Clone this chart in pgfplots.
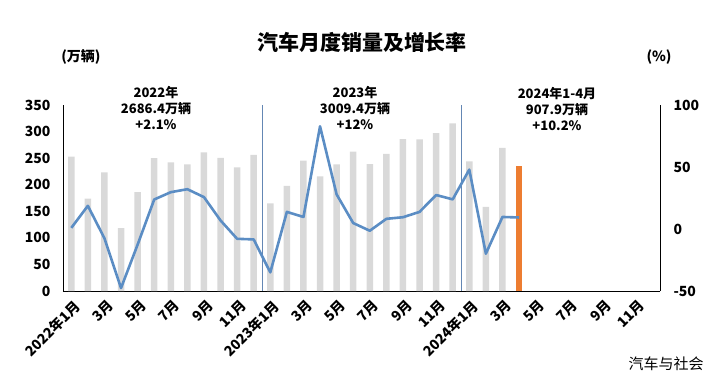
\documentclass[border=0pt]{standalone}
\usepackage{pgfplots}
\pgfplotsset{compat=1.18}
\usepackage{fontspec}
\setmainfont{Noto Sans CJK SC}
\definecolor{barg}{RGB}{217,217,217}
\definecolor{lineb}{RGB}{91,141,196}
\definecolor{orng}{RGB}{237,125,49}
\definecolor{divl}{RGB}{100,135,180}
\begin{document}
\begin{tikzpicture}[x=1pt,y=1pt]
\path[use as bounding box] (-63,-90) rectangle (661,291);
\begin{axis}[
  scale only axis, width=597pt, height=186pt,
  xmin=-0.5, xmax=35.5, ymin=0, ymax=350,
  axis x line*=bottom, axis y line*=left,
  axis line style={black, line width=0.8pt, -},
  major tick length=0pt,
  xtick={0,2,...,34},
  xticklabels={2022年1月,3月,5月,7月,9月,11月,2023年1月,3月,5月,7月,9月,11月,2024年1月,3月,5月,7月,9月,11月},
  x tick label style={yshift=-6pt, xshift=2pt, rotate=45, anchor=north east, inner sep=1pt, font=\fontsize{14}{14}\selectfont\bfseries},
  ytick={0,50,...,350},
  yticklabels={0,50,100,150,200,250,300,350},
  y tick label style={font=\fontsize{14}{14}\selectfont\bfseries, xshift=-9pt},
  extra x ticks={11.5,23.5}, extra x tick labels={,},
  extra x tick style={grid=major, major grid style={divl, line width=0.6pt}},
  ybar, bar width=6.5pt,
]
\addplot[fill=barg, draw=none, bar shift=0pt] coordinates {
(0,253.0) (1,173.7) (2,223.4) (3,118.1) (4,186.2) (5,250.2) (6,242.0) (7,238.3) (8,261.0) (9,250.3) (10,232.6) (11,256.0)
(12,164.9) (13,197.6) (14,245.1) (15,215.9) (16,238.2) (17,262.2) (18,238.7) (19,258.2) (20,285.8) (21,285.3) (22,297.0) (23,315.6)
(24,243.9) (25,158.4) (26,269.4)};
\addplot[fill=orng, draw=none, bar shift=0pt] coordinates {(27,235.9)};
\end{axis}
\begin{axis}[
  scale only axis, width=597pt, height=186pt,
  xmin=-0.5, xmax=35.5, ymin=-50, ymax=100,
  axis x line=none, axis y line*=right,
  axis line style={black, line width=0.8pt, -},
  major tick length=0pt,
  ytick={-50,0,50,100},
  yticklabels={-50,0,50,100},
  y tick label style={font=\fontsize{14}{14}\selectfont\bfseries, xshift=10pt},
]
\addplot[lineb, line width=2.6pt, line join=round] coordinates {
(0,0.9) (1,18.7) (2,-7.5) (3,-47.6) (4,-12.6) (5,23.8) (6,29.7) (7,32.1) (8,25.7) (9,6.9) (10,-7.9) (11,-8.4)
(12,-35.0) (13,13.8) (14,9.7) (15,82.8) (16,27.9) (17,4.8) (18,-1.4) (19,8.2) (20,9.5) (21,13.8) (22,27.4) (23,23.9)
(24,47.9) (25,-19.9) (26,9.7) (27,9.3)};
\end{axis}
\node[font=\fontsize{21}{21}\selectfont\bfseries] at (299,249) {汽车月度销量及增长率};
\node[font=\fontsize{14}{14}\selectfont\bfseries] at (18,234) {(万辆)};
\node[font=\fontsize{14}{14}\selectfont\bfseries] at (596,234) {(\%)};
\node[font=\fontsize{13}{16}\selectfont\bfseries, align=center] at (93,183) {2022年\\2686.4万辆\\+2.1\%};
\node[font=\fontsize{13}{16}\selectfont\bfseries, align=center] at (292,183) {2023年\\3009.4万辆\\+12\%};
\node[font=\fontsize{13}{16}\selectfont\bfseries, align=center] at (494,182) {2024年1-4月\\907.9万辆\\+10.2\%};
\node[font=\fontsize{15}{15}\selectfont] at (603,-73) {汽车与社会};
\end{tikzpicture}
\end{document}
